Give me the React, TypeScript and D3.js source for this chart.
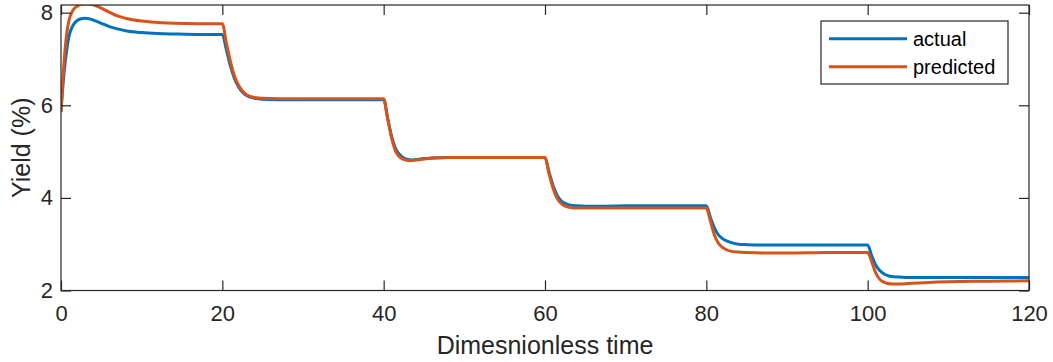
import * as d3 from "d3";
import React, { useEffect, useRef } from "react";

// time samples (dimensionless)
const time = [
  0, 0.25, 0.5, 0.75, 1, 1.5, 2, 2.5, 3, 3.5, 4, 5, 6, 7, 8, 10, 12, 14, 17, 20,
  20.5, 21, 21.5, 22, 22.5, 23, 24, 25, 27, 30, 35, 40,
  40.5, 41, 41.5, 42, 42.5, 43, 43.5, 44, 45, 46, 48, 52, 56, 60,
  60.5, 61, 61.5, 62, 62.5, 63, 64, 65, 67, 70, 75, 80,
  80.5, 81, 81.5, 82, 82.5, 83, 84, 85, 87, 90, 95, 100,
  100.5, 101, 101.5, 102, 102.5, 103, 104, 105, 107, 110, 115, 120,
];

const actual = [
  5.88, 6.45, 6.9, 7.25, 7.5, 7.73, 7.83, 7.87, 7.88, 7.87, 7.84, 7.77, 7.7, 7.65, 7.61, 7.57, 7.55, 7.54, 7.53, 7.53,
  7.2, 6.85, 6.58, 6.4, 6.28, 6.21, 6.15, 6.13, 6.12, 6.12, 6.12, 6.12,
  5.72, 5.32, 5.06, 4.93, 4.86, 4.83, 4.82, 4.83, 4.85, 4.86, 4.87, 4.87, 4.87, 4.87,
  4.56, 4.27, 4.06, 3.94, 3.88, 3.85, 3.83, 3.82, 3.82, 3.83, 3.83, 3.83,
  3.58, 3.35, 3.2, 3.12, 3.07, 3.04, 3.0, 2.99, 2.98, 2.98, 2.98, 2.98,
  2.75, 2.55, 2.43, 2.36, 2.32, 2.3, 2.29, 2.28, 2.28, 2.28, 2.28, 2.28,
];

const predicted = [
  5.85, 6.6, 7.2, 7.6, 7.84, 8.06, 8.14, 8.18, 8.19, 8.19, 8.17, 8.1, 8.01, 7.93, 7.88, 7.82, 7.79, 7.77, 7.76, 7.76,
  7.35, 6.95, 6.64, 6.44, 6.31, 6.23, 6.17, 6.15, 6.14, 6.14, 6.14, 6.14,
  5.7, 5.28, 5.0, 4.88, 4.83, 4.81, 4.81, 4.82, 4.84, 4.86, 4.87, 4.87, 4.87, 4.87,
  4.52, 4.21, 3.99, 3.88, 3.82, 3.8, 3.78, 3.78, 3.78, 3.78, 3.78, 3.78,
  3.5, 3.2, 3.02, 2.93, 2.88, 2.85, 2.83, 2.82, 2.81, 2.81, 2.82, 2.82,
  2.62, 2.38, 2.24, 2.18, 2.15, 2.14, 2.14, 2.15, 2.17, 2.19, 2.2, 2.21,
];

const xTicks = [0, 20, 40, 60, 80, 100, 120];
const yTicks = [2, 4, 6, 8];
const seriesNames = ["actual", "predicted"];
const colors = ["#0072BD", "#D95319"];

export default function App() {
  const svgRef = useRef(null);
  const width = 1053;
  const height = 362;
  const margin = { top: 5, right: 24, bottom: 71.5, left: 61 };
  const font = "'Liberation Sans', Arial, Helvetica, sans-serif";
  const ink = "#262626";

  useEffect(() => {
    const svgEl = d3.select(svgRef.current);
    svgEl.selectAll("*").remove();

    const x = d3
      .scaleLinear()
      .domain([0, 120])
      .range([margin.left, width - margin.right]);
    const y = d3
      .scaleLinear()
      .domain([2, 8.166])
      .range([height - margin.bottom, margin.top]);

    const x0 = margin.left;
    const x1 = width - margin.right;
    const y0 = height - margin.bottom;
    const y1 = margin.top;

    svgEl
      .append("clipPath")
      .attr("id", "plotclip")
      .append("rect")
      .attr("x", x0)
      .attr("y", y1)
      .attr("width", x1 - x0)
      .attr("height", y0 - y1);

    // lines
    const series = [actual, predicted];
    series.forEach((vals, i) => {
      const pts = time.map((t, k) => [t, vals[k]]);
      const line = d3
        .line()
        .x((d) => x(d[0]))
        .y((d) => y(d[1]))
        .curve(d3.curveMonotoneX);
      svgEl
        .append("path")
        .attr("d", line(pts))
        .attr("fill", "none")
        .attr("stroke", colors[i])
        .attr("stroke-width", 3)
        .attr("stroke-linejoin", "round")
        .attr("clip-path", "url(#plotclip)");
    });

    // axes, ticks pointing inward like matlab
    const styleAxis = (g) => {
      g.select(".domain").remove();
      g.selectAll("line").attr("stroke", ink).attr("stroke-width", 1.2);
      g.selectAll("text")
        .attr("fill", ink)
        .style("font-family", font)
        .style("font-size", "22px");
    };

    svgEl
      .append("g")
      .attr("transform", "translate(0," + y0 + ")")
      .call(
        d3
          .axisBottom(x)
          .tickValues(xTicks)
          .tickSize(-10)
          .tickPadding(15)
          .tickFormat(d3.format("d"))
      )
      .call(styleAxis);
    svgEl
      .append("g")
      .attr("transform", "translate(0," + y1 + ")")
      .call(d3.axisTop(x).tickValues(xTicks).tickSize(-10).tickFormat(() => ""))
      .call(styleAxis);
    svgEl
      .append("g")
      .attr("transform", "translate(" + x0 + ",0)")
      .call(
        d3
          .axisLeft(y)
          .tickValues(yTicks)
          .tickSize(-10)
          .tickPadding(8)
          .tickFormat(d3.format("d"))
      )
      .call(styleAxis);
    svgEl
      .append("g")
      .attr("transform", "translate(" + x1 + ",0)")
      .call(d3.axisRight(y).tickValues(yTicks).tickSize(-10).tickFormat(() => ""))
      .call(styleAxis);

    svgEl
      .append("rect")
      .attr("x", x0)
      .attr("y", y1)
      .attr("width", x1 - x0)
      .attr("height", y0 - y1)
      .attr("fill", "none")
      .attr("stroke", ink)
      .attr("stroke-width", 1.2);

    // axis labels
    svgEl
      .append("text")
      .attr("x", (x0 + x1) / 2)
      .attr("y", 354)
      .attr("text-anchor", "middle")
      .attr("fill", ink)
      .style("font-family", font)
      .style("font-size", "25px")
      .text("Dimesnionless time");
    svgEl
      .append("text")
      .attr("transform", "translate(30," + (y0 + y1) / 2 + ") rotate(-90)")
      .attr("text-anchor", "middle")
      .attr("fill", ink)
      .style("font-family", font)
      .style("font-size", "25px")
      .text("Yield (%)");

    // legend
    const leg = svgEl.append("g");
    leg
      .append("rect")
      .attr("x", 821)
      .attr("y", 21)
      .attr("width", 187)
      .attr("height", 63)
      .attr("fill", "white")
      .attr("stroke", ink)
      .attr("stroke-width", 1.2);
    seriesNames.forEach((name, i) => {
      const ly = 38.7 + i * 28;
      leg
        .append("line")
        .attr("x1", 829)
        .attr("x2", 907)
        .attr("y1", ly)
        .attr("y2", ly)
        .attr("stroke", colors[i])
        .attr("stroke-width", 3);
      leg
        .append("text")
        .attr("x", 913)
        .attr("y", ly + 7.5)
        .attr("fill", "black")
        .style("font-family", font)
        .style("font-size", "20px")
        .text(name);
    });
  });

  return (
    <svg
      ref={svgRef}
      width={width}
      height={height}
      style={{ position: "absolute", left: 0, top: 0, background: "white" }}
    ></svg>
  );
}
